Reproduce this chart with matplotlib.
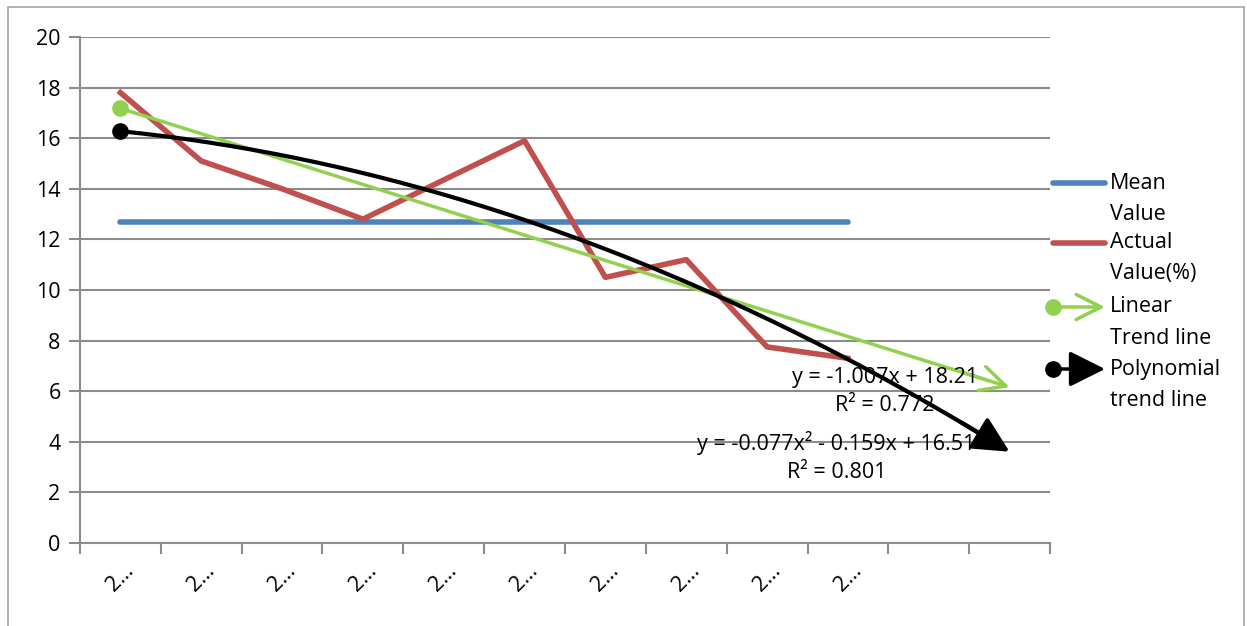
import numpy as np
import matplotlib.pyplot as plt
from matplotlib.lines import Line2D
from matplotlib.patches import Rectangle

plt.rcParams['font.family'] = ['Open Sans', 'DejaVu Sans']

# data
periods = np.arange(1, 11)
actual = [17.8, 15.1, 14.0, 12.8, 14.35, 15.9, 10.5, 11.2, 7.75, 7.3]
tick_labels = ['2\u2026'] * 10
n_slots = 12
forecast_end = 12
lin_label = 'y = -1.007x + 18.21\nR\u00b2 = 0.772'
poly_label = 'y = -0.077x\u00b2 - 0.159x + 16.51\nR\u00b2 = 0.801'
legend_names = [('Mean', 'Value'), ('Actual', 'Value(%)'),
                ('Linear', 'Trend line'), ('Polynomial', 'trend line')]

blue = '#4F81BD'
red = '#C0504D'
green = '#92D050'
grey = '#8C8C8C'

fig = plt.figure(figsize=(12.47, 6.26), dpi=100)
fig.patches.append(Rectangle((8 / 1247, -0.05), 1236 / 1247, 1.05 - 7 / 626,
                             transform=fig.transFigure, fill=False,
                             edgecolor='#A6A6A6', lw=1.2))
ax = fig.add_axes([80 / 1247, 83 / 626, 970 / 1247, 506 / 626])

mean = np.mean(actual)
ax.plot(periods, [mean] * len(periods), color=blue, lw=4, solid_capstyle='round', zorder=3)
ax.plot(periods, actual, color=red, lw=4, zorder=3)

lin = np.poly1d(np.polyfit(periods, actual, 1))
poly = np.poly1d(np.polyfit(periods, actual, 2))
xs = np.linspace(1, forecast_end - 0.3, 200)

green_head = '->, head_length=0.9, head_width=0.45'
black_head = '-|>, head_length=1.1, head_width=0.55'

ax.plot(xs, lin(xs), color=green, lw=2.5, zorder=4)
ax.plot([1], [lin(1)], 'o', color=green, ms=11, zorder=4)
ax.annotate('', xy=(forecast_end, lin(forecast_end)),
            xytext=(forecast_end - 0.6, lin(forecast_end - 0.6)),
            arrowprops=dict(arrowstyle=green_head, color=green, lw=2.5,
                            mutation_scale=20, shrinkA=0, shrinkB=0), zorder=4)

ax.plot(xs, poly(xs), color='black', lw=3, zorder=5)
ax.plot([1], [poly(1)], 'o', color='black', ms=11, zorder=5)
ax.annotate('', xy=(forecast_end, poly(forecast_end)),
            xytext=(forecast_end - 0.6, poly(forecast_end - 0.6)),
            arrowprops=dict(arrowstyle=black_head, color='black', lw=3,
                            mutation_scale=20, shrinkA=0, shrinkB=0), zorder=5)

ax.text(10.46, 6.0, lin_label, ha='center', va='center',
        fontsize=15.5, linespacing=1.45, zorder=6)
ax.text(9.86, 3.4, poly_label, ha='center', va='center',
        fontsize=15.5, linespacing=1.45, zorder=6)

ax.set_xlim(0.5, n_slots + 0.5)
ax.set_ylim(0, 20)
ax.set_yticks(np.arange(0, 21, 2))
ax.set_xticks(np.arange(0.5, n_slots + 1, 1))
ax.set_xticklabels([])
ax.grid(axis='y', color=grey, lw=1.5)
ax.set_axisbelow(True)
for s in ['top', 'right']:
    ax.spines[s].set_visible(False)
for s in ['left', 'bottom']:
    ax.spines[s].set_color(grey)
    ax.spines[s].set_linewidth(1.5)
ax.tick_params(axis='both', colors=grey, width=1.5, length=8, labelcolor='black',
               labelsize=15.5)
ax.tick_params(axis='y', pad=6)

for p, lab in zip(periods, tick_labels):
    ax.text(p, -0.068, lab, transform=ax.get_xaxis_transform(), rotation=45,
            ha='center', va='center', fontsize=15.5)

# legend drawn by hand at right
ly = [183, 243, 307, 369]
x0, x1, xt = 1053 / 1247, 1105 / 1247, 1110 / 1247
for i, (y, (first, second)) in enumerate(zip(ly, legend_names)):
    yf = 1 - y / 626
    fig.text(xt, yf, first, ha='left', va='center', fontsize=15.5)
    fig.text(xt, yf - 31 / 626, second, ha='left', va='center', fontsize=15.5)
    if i < 2:
        fig.add_artist(Line2D([x0, x1], [yf, yf], color=[blue, red][i], lw=4,
                              solid_capstyle='round'))
    else:
        col = green if i == 2 else 'black'
        style = green_head if i == 2 else black_head
        fig.add_artist(Line2D([x0], [yf], marker='o', color=col, ms=11))
        ax.annotate('', xy=(x1, yf), xytext=(x0, yf), xycoords='figure fraction',
                    textcoords='figure fraction',
                    arrowprops=dict(arrowstyle=style, color=col, lw=2.5,
                                    mutation_scale=20, shrinkA=0, shrinkB=0),
                    annotation_clip=False)

fig.savefig('out.png', dpi=100)
